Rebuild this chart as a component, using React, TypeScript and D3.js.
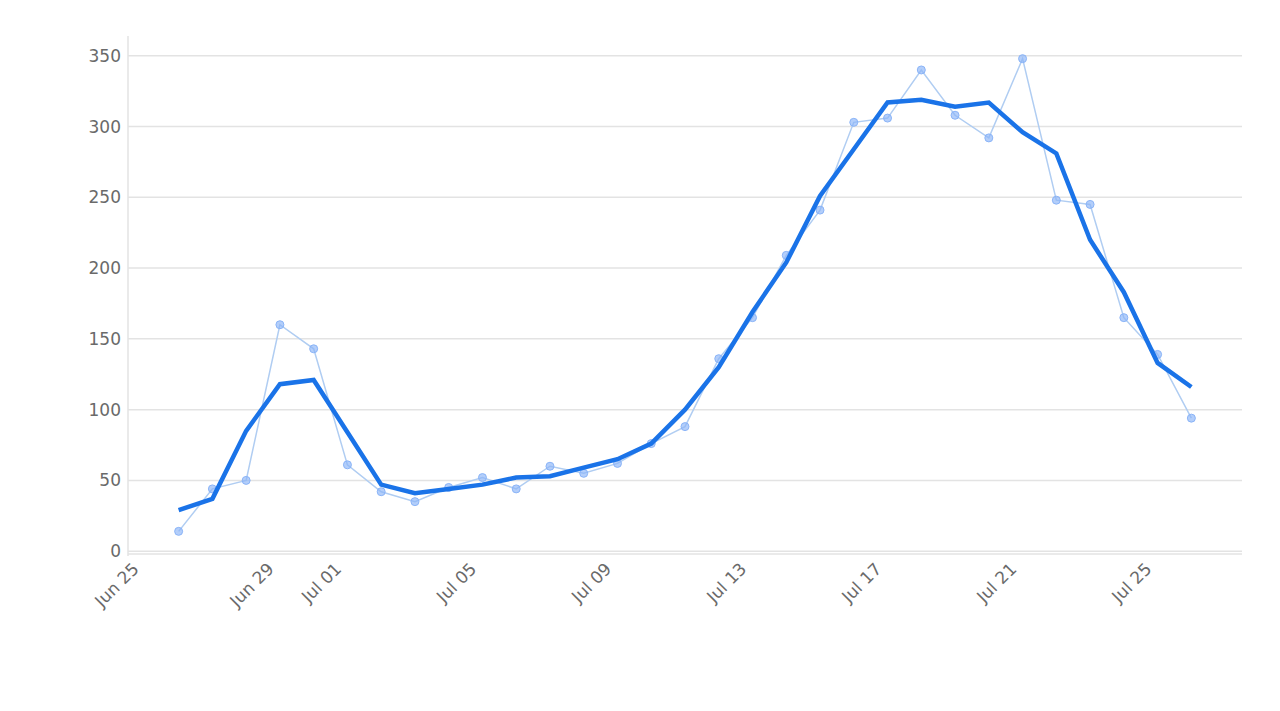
// @ts-nocheck
import React, { useEffect, useRef } from "react";
import * as d3 from "d3";

// daily values, Jun 26 .. Jul 26
const startDay = "2020-06-26";
const rawValues = [
  14, 44, 50, 160, 143, 61, 42, 35, 45, 52, 44, 60, 55, 62, 76, 88, 136, 165,
  209, 241, 303, 306, 340, 308, 292, 348, 248, 245, 165, 139, 94,
];
const avgValues = [
  29, 37, 85, 118, 121, 84, 47, 41, 44, 47, 52, 53, 59, 65, 76, 100, 130, 169,
  204, 251, 284, 317, 319, 314, 317, 296, 281, 220, 183, 133, 116,
];
const yTicks = [0, 50, 100, 150, 200, 250, 300, 350];

function App() {
  const ref = useRef(null);

  useEffect(() => {
    const margin = { top: 36, right: 38, bottom: 157, left: 128 };
    const width = 1280 - margin.left - margin.right,
      height = 711 - margin.top - margin.bottom;

    const parse = d3.timeParse("%Y-%m-%d");
    const start = parse(startDay);
    const dates = rawValues.map((_, i) => d3.timeDay.offset(start, i));

    const svg = d3.select(ref.current);
    svg.selectAll("*").remove();
    const g = svg
      .append("g")
      .attr("transform", "translate(" + margin.left + "," + margin.top + ")");

    const x = d3
      .scaleTime()
      .domain([
        d3.timeHour.offset(d3.timeDay.offset(start, -1), -12),
        d3.timeHour.offset(dates[dates.length - 1], 36),
      ])
      .range([0, width]);
    const y = d3.scaleLinear().domain([-2, 364]).range([height, 0]);

    // gridlines
    g.selectAll(".grid")
      .data(yTicks)
      .enter()
      .append("line")
      .attr("x1", 0)
      .attr("x2", width)
      .attr("y1", (d) => y(d))
      .attr("y2", (d) => y(d))
      .style("stroke", "#e3e3e3")
      .style("stroke-width", 1.5);

    // axis lines
    g.append("line")
      .attr("x1", 0)
      .attr("x2", 0)
      .attr("y1", 0)
      .attr("y2", height + 2)
      .style("stroke", "#e3e3e3")
      .style("stroke-width", 1.5);
    g.append("line")
      .attr("x1", 0)
      .attr("x2", width)
      .attr("y1", height)
      .attr("y2", height)
      .style("stroke", "#e3e3e3")
      .style("stroke-width", 1.5);

    // y labels
    g.selectAll(".ylab")
      .data(yTicks)
      .enter()
      .append("text")
      .attr("x", -7)
      .attr("y", (d) => y(d))
      .attr("dy", "0.35em")
      .attr("text-anchor", "end")
      .style("font-family", "DejaVu Sans, sans-serif")
      .style("font-size", 17)
      .attr("fill", "#6a6a6a")
      .text((d) => d);

    // x labels
    const fmt = d3.timeFormat("%b %d");
    g.selectAll(".xlab")
      .data(x.ticks(d3.timeDay.every(4)))
      .enter()
      .append("text")
      .attr(
        "transform",
        (d) => "translate(" + (x(d) - 5) + "," + (height + 16) + ") rotate(-45)"
      )
      .attr("text-anchor", "end")
      .style("font-family", "DejaVu Sans, sans-serif")
      .style("font-size", 17)
      .attr("fill", "#6a6a6a")
      .text((d) => fmt(d));

    // raw series
    const line = d3
      .line()
      .x((d, i) => x(dates[i]))
      .y((d) => y(d));

    g.append("path")
      .attr("d", line(rawValues))
      .style("fill", "none")
      .style("stroke", "#b0cdf2")
      .style("stroke-width", 1.5);

    g.selectAll(".dot")
      .data(rawValues)
      .enter()
      .append("circle")
      .attr("cx", (d, i) => x(dates[i]))
      .attr("cy", (d) => y(d))
      .attr("r", 4)
      .style("fill", "#8ab4f8")
      .style("fill-opacity", 0.65)
      .style("stroke", "#8ab4f8")
      .style("stroke-width", 1);

    // smoothed average
    g.append("path")
      .attr("d", line(avgValues))
      .style("fill", "none")
      .style("stroke", "#1a73e8")
      .style("stroke-width", 4.5)
      .style("stroke-linejoin", "miter");
  }, []);

  return (
    <svg
      ref={ref}
      width={1280}
      height={711}
      style={{ position: "absolute", left: 0, top: 0, background: "#fff" }}
    />
  );
}

export default App;
